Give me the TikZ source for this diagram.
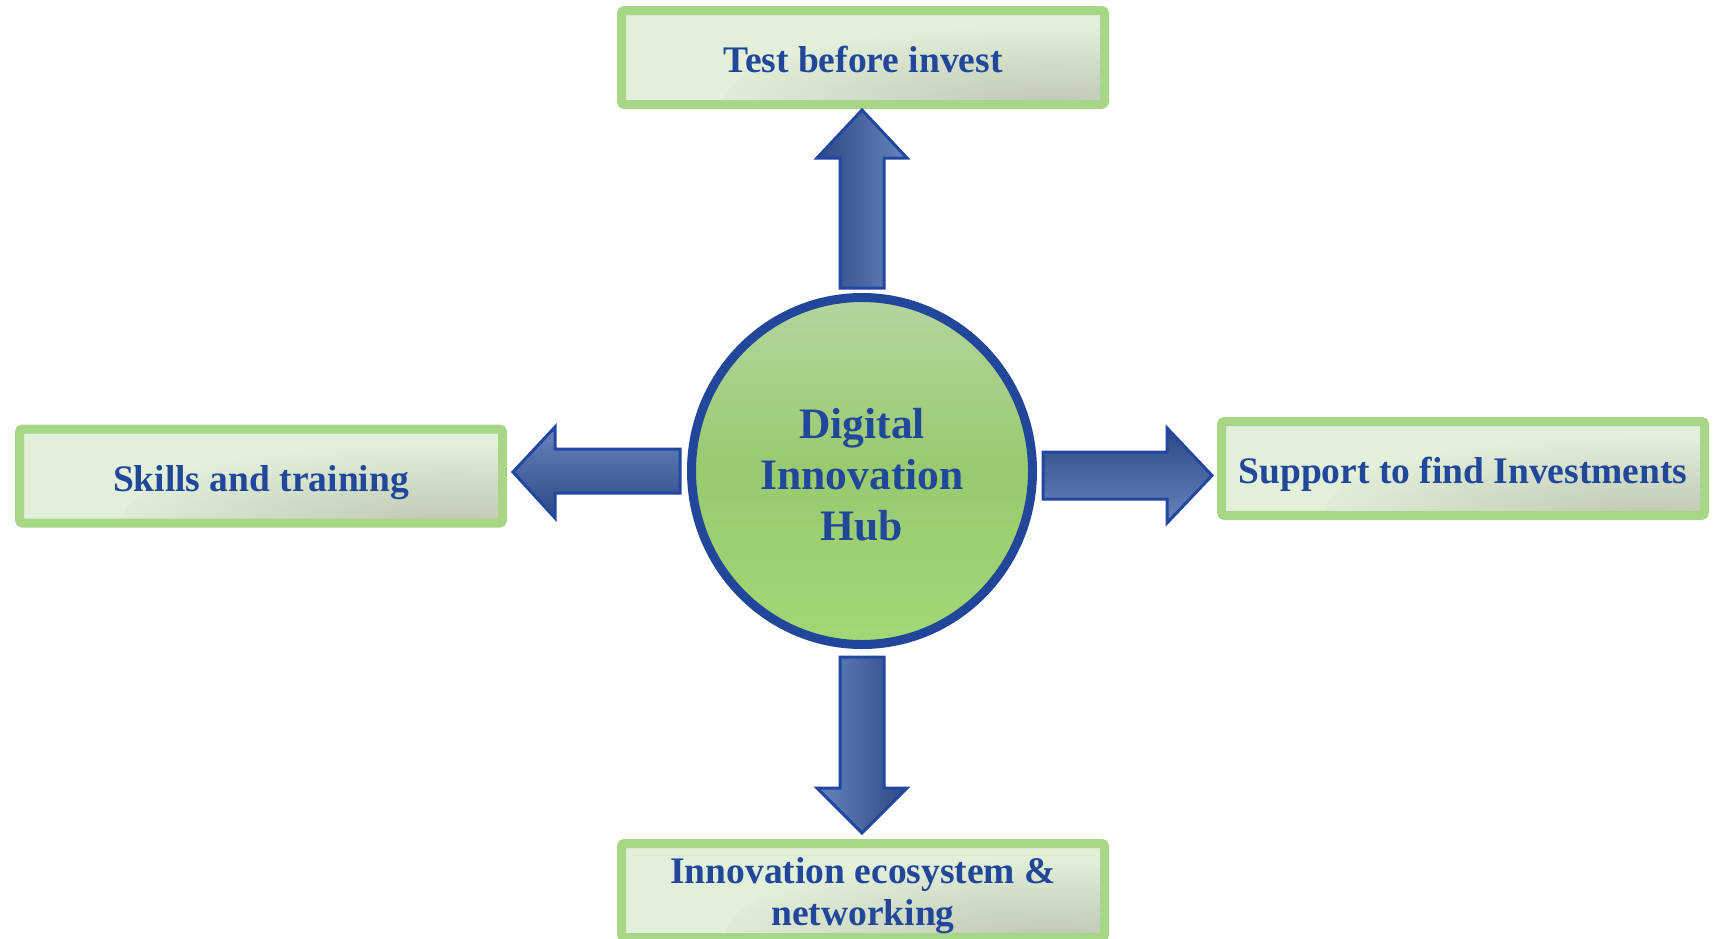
\documentclass[tikz,border=0pt]{standalone}
\usepackage{fontspec}
\setmainfont{Liberation Serif}
\usetikzlibrary{shapes.geometric}
\definecolor{boxgreen}{HTML}{A6D686}
\definecolor{boxfill}{HTML}{E2EFD9}
\definecolor{boxgray}{HTML}{BFC8B3}
\definecolor{txtblue}{HTML}{21479B}
\definecolor{hubedge}{HTML}{22479A}
\definecolor{hubtop}{HTML}{B4D49E}
\definecolor{hubmid}{HTML}{98CA6E}
\definecolor{hubbot}{HTML}{A1D976}
\definecolor{arrowdark}{HTML}{2B4886}
\definecolor{arrowlight}{HTML}{6685BE}
\definecolor{arrowedge}{HTML}{2347A0}
\pgfdeclareradialshading{cornershade}{\pgfpoint{0bp}{0bp}}{color(0bp)=(boxgray); color(21bp)=(boxfill); color(50bp)=(boxfill)}
\begin{document}
\begin{tikzpicture}[x=1pt,y=-1pt,
  box/.style={draw=boxgreen, line width=9pt, fill=boxfill, rounded corners=3pt,
    minimum width=483, minimum height=94, inner sep=0pt, text=txtblue,
    font=\fontsize{37.5}{42}\selectfont\bfseries, align=center,
    text height=38pt, text depth=8pt,
    path picture={\shade[shading=cornershade]
      (path picture bounding box.south east) ellipse [x radius=380, y radius=95];}},
  hubstyle/.style={ellipse, draw=hubedge, line width=9pt, minimum width=341, minimum height=347,
    top color=hubtop, bottom color=hubbot, middle color=hubmid, text=txtblue,
    font=\fontsize{43.5}{51}\selectfont\bfseries, align=center, inner sep=0pt,
    text height=140pt, text depth=2pt},
  blockarrow/.style={draw=arrowedge, line width=3pt, line join=miter}]
\useasboundingbox (0,0) rectangle (1717,938);
\clip (0,0) rectangle (1717,938);
\fill[white] (0,0) rectangle (1717,938);

\node[box] (test) at (863,57.5) {Test before invest};
\node[box] (support) at (1463,468.5) {Support to find Investments};
\node[box] (skills) at (261,476) {Skills and training};
\node[box, text height=77pt, text depth=8pt] (eco) at (863,890.5) {Innovation ecosystem \&\\networking};

\node[hubstyle] (hub) at (862,471) {Digital\\Innovation\\Hub};

% up arrow
\draw[blockarrow, left color=arrowdark, right color=arrowlight]
  (840,288) -- (840,158) -- (817,158) -- (862,110) -- (907,158) -- (884,158) -- (884,288) -- cycle;
% down arrow
\draw[blockarrow, left color=arrowlight, right color=arrowdark]
  (840,657) -- (884,657) -- (884,788) -- (907,788) -- (862,833) -- (817,788) -- (840,788) -- cycle;
% right arrow
\draw[blockarrow, top color=arrowdark, bottom color=arrowlight]
  (1043,452) -- (1167,452) -- (1167,428) -- (1212,475.5) -- (1167,523) -- (1167,499) -- (1043,499) -- cycle;
% left arrow
\draw[blockarrow, top color=arrowlight, bottom color=arrowdark]
  (680,449) -- (555,449) -- (555,427) -- (513,472) -- (555,518) -- (555,493) -- (680,493) -- cycle;
\end{tikzpicture}
\end{document}
